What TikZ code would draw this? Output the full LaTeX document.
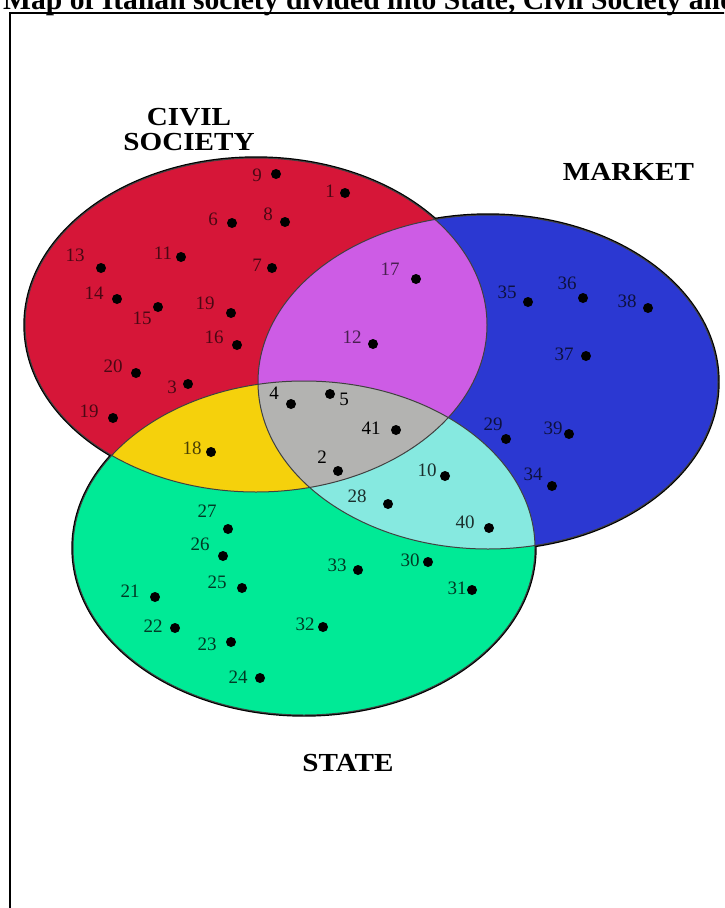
\documentclass[tikz,border=0pt]{standalone}
\usepackage{fontspec}
\setmainfont{Liberation Serif}
\newfontfamily\lblfont[FakeStretch=1.12]{Liberation Serif}
\definecolor{cred}{RGB}{214,22,56}
\definecolor{cblue}{RGB}{43,56,210}
\definecolor{cgreen}{RGB}{0,234,150}
\definecolor{cpurple}{RGB}{205,92,229}
\definecolor{cyellow}{RGB}{245,209,12}
\definecolor{ccyan}{RGB}{134,233,224}
\definecolor{cgray}{RGB}{179,179,177}
\begin{document}
\begin{tikzpicture}[x=1pt,y=-1pt,
  dot/.style={circle, fill=black, inner sep=0pt, minimum size=10pt},
  num/.style={inner sep=0pt, font=\fontsize{19}{19}\selectfont},
  biglbl/.style={inner sep=0pt, font=\lblfont\bfseries\fontsize{26}{25}\selectfont},
  outerline/.style={line width=3.4pt, black},
  innerline/.style={line width=1pt, black!75}]
\useasboundingbox (0,0) rectangle (724,908);
\clip (0,0) rectangle (724,908);
\def\redE{(256,325) ellipse [x radius=231pt, y radius=167pt]}
\def\blueE{(488,382) ellipse [x radius=230pt, y radius=167pt]}
\def\greenE{(304,548) ellipse [x radius=231pt, y radius=167pt]}
% title and frame
\node[inner sep=0pt, anchor=base west, font=\bfseries\fontsize{29.6}{29.6}\selectfont] (title) at (3,9.5) {Map of Italian society divided into State, Civil Society and Market};
\draw[line width=2.2pt] (10,930) -- (10,12.8) -- (760,12.8);
% outer outlines
\draw[outerline] \redE;
\draw[outerline] \blueE;
\draw[outerline] \greenE;
% fills
\fill[cred] \redE;
\fill[cblue] \blueE;
\fill[cgreen] \greenE;
\begin{scope}\clip \redE; \fill[cpurple] \blueE; \end{scope}
\begin{scope}\clip \redE; \fill[cyellow] \greenE; \end{scope}
\begin{scope}\clip \blueE; \fill[ccyan] \greenE; \end{scope}
\begin{scope}\clip \redE; \clip \blueE; \fill[cgray] \greenE; \end{scope}
% inner outlines
\draw[innerline] \redE;
\draw[innerline] \blueE;
\draw[innerline] \greenE;
% region labels
\node[biglbl, align=center, anchor=north] (civil) at (189,108) {CIVIL\\SOCIETY};
\node[biglbl, anchor=base] (market) at (628.5,180) {MARKET};
\node[biglbl, anchor=base] (state) at (348,771.5) {STATE};
% civil society only
\foreach \id/\t/\lx/\ly/\dx/\dy in {
  a9/9/257/175/276/174, a1/1/330/191/345/193, a6/6/213/219/232/223,
  a8/8/268/214/285/222, a13/13/75/255/101/268, a11/11/163/253/181/257,
  a7/7/257/265/272/268, a14/14/94/293/117/299, a15/15/142/318/158/307,
  a19/19/205/303/231/313, a16/16/214/337/237/345, a20/20/113/366/136/373,
  a3/3/172/387/188/384, b19/19/89/411/113/418}
  {\node[num, text=cred!35!black] (l\id) at (\lx,\ly) {\t};
   \node[dot] (d\id) at (\dx,\dy) {};}
% civil society and market
\foreach \id/\t/\lx/\ly/\dx/\dy in {
  a17/17/390/269/416/279, a12/12/352/337/373/344}
  {\node[num, text=cpurple!35!black] (l\id) at (\lx,\ly) {\t};
   \node[dot] (d\id) at (\dx,\dy) {};}
% market only
\foreach \id/\t/\lx/\ly/\dx/\dy in {
  a35/35/507/292/528/302, a36/36/567/283/583/298, a38/38/627/301/648/308,
  a37/37/564/354/586/356, a29/29/493/424/506/439, a39/39/553/428/569/434,
  a34/34/533/474/552/486}
  {\node[num, text=cblue!30!black] (l\id) at (\lx,\ly) {\t};
   \node[dot] (d\id) at (\dx,\dy) {};}
% all three
\foreach \id/\t/\lx/\ly/\dx/\dy in {
  a4/4/274/393/291/404, a5/5/344/399/330/394, a41/41/371/428/396/430,
  a2/2/322/457/338/471}
  {\node[num, text=black] (l\id) at (\lx,\ly) {\t};
   \node[dot] (d\id) at (\dx,\dy) {};}
% market and state
\foreach \id/\t/\lx/\ly/\dx/\dy in {
  a10/10/427/470/445/476, a28/28/357/496/388/504, a40/40/465/522/489/528}
  {\node[num, text=ccyan!20!black] (l\id) at (\lx,\ly) {\t};
   \node[dot] (d\id) at (\dx,\dy) {};}
% civil society and state
\node[num, text=cyellow!30!black] (la18) at (192,448) {18};
\node[dot] (da18) at (211,452) {};
% state only
\foreach \id/\t/\lx/\ly/\dx/\dy in {
  a27/27/207/511/228/529, a26/26/200/544/223/556, a25/25/217/582/242/588,
  a21/21/130/591/155/597, a22/22/153/626/175/628, a23/23/207/644/231/642,
  a24/24/238/677/260/678, a33/33/337/565/358/570, a30/30/410/560/428/562,
  a31/31/457/588/472/590, a32/32/305/624/323/627}
  {\node[num, text=cgreen!25!black] (l\id) at (\lx,\ly) {\t};
   \node[dot] (d\id) at (\dx,\dy) {};}
\end{tikzpicture}
\end{document}
